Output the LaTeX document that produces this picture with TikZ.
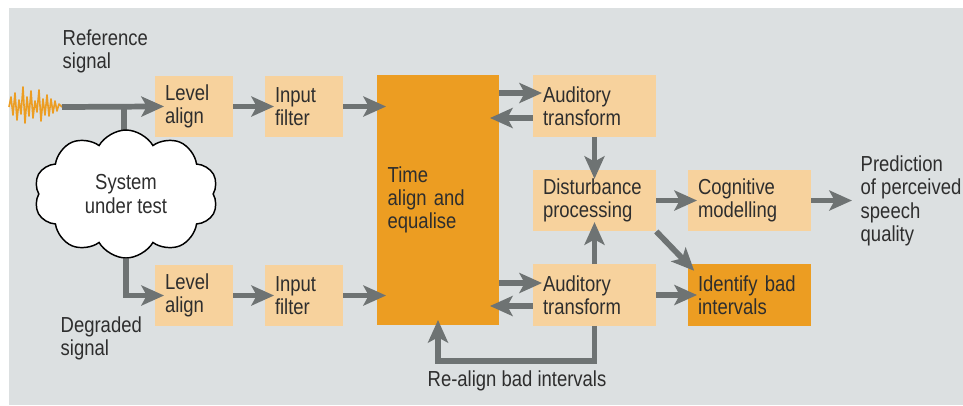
\documentclass[tikz,border=0pt]{standalone}
\usepackage{fontspec}
\setmainfont{Liberation Sans}[FakeStretch=0.85]
\usetikzlibrary{arrows.meta,shapes.symbols}
\definecolor{bggray}{HTML}{DCE0E1}
\definecolor{lightorange}{HTML}{F7D29D}
\definecolor{darkorange}{HTML}{EC9D22}
\definecolor{arrowgray}{HTML}{6E7373}
\definecolor{textgray}{HTML}{2E2E2E}
\begin{document}
\begin{tikzpicture}[x=0.75pt,y=-0.75pt,
        font=\fontsize{16.3pt}{17.5pt}\selectfont,
        every node/.style={text=textgray},
        smallbox/.style={rectangle,fill=lightorange,inner xsep=7.5pt,inner ysep=0pt,
                text width=43.5pt,minimum height=45.75pt,align=left},
        widebox/.style={rectangle,fill=lightorange,inner xsep=7.5pt,inner ysep=0pt,
                text width=77.25pt,minimum height=46pt,align=left},
        flow/.style={draw=arrowgray,line width=4.3pt,
                -{Stealth[length=17pt,width=15pt,inset=4pt]},shorten >=-7pt},
        stem/.style={draw=arrowgray,line width=4.3pt}]
        \useasboundingbox (0,0) rectangle (963,405);
        \fill[bggray] (9,8) rectangle (963,405);

        % reference waveform
        \draw[darkorange,line width=1.2pt,line join=round] plot coordinates {
                (9,107) (11,97) (13,115) (15,93) (17,120) (19,100) (21,114) (23,87)
                (25,123) (27,97) (29,116) (31,91) (33,118) (35,101) (37,112) (39,90)
                (41,121) (43,99) (45,115) (47,95) (49,116) (51,99) (53,113) (55,101)
                (57,111) (59,104) (62,107)};
        \coordinate (wave) at (62,107);
        \coordinate (tee) at (124,107);

        \node[anchor=north west,align=left] (reflbl) at (58,25) {Reference\\signal};
        \node[anchor=north west,align=left] (deglbl) at (56,312) {Degraded\\signal};

        \node[smallbox] (lev1) at (194,106.5) {Level\\align};
        \node[smallbox] (inp1) at (304,106.5) {Input\\filter};
        \node[smallbox] (lev2) at (194,295.5) {Level\\align};
        \node[smallbox] (inp2) at (304,295.5) {Input\\filter};

        \node[rectangle,fill=darkorange,inner xsep=8pt,inner ysep=0pt,text width=75.5pt,
                minimum height=187.5pt,align=left] (time) at (438,200) {Time\\align and\\equalise};

        \node[widebox] (at1) at (594.5,106) {Auditory\\transform};
        \node[widebox] (dp) at (594.5,200.5) {Disturbance\\processing};
        \node[widebox] (at2) at (594.5,295) {Auditory\\transform};
        \node[widebox] (cm) at (749.5,200.5) {Cognitive\\modelling};
        \node[widebox,fill=darkorange] (ibi) at (749.5,295) {Identify bad\\intervals};

        \node[anchor=north west,align=left] (pred) at (856,151) {Prediction\\of perceived\\speech\\quality};
        \node (realbl) at (517,381) {Re-align bad intervals};

        \draw[stem] (tee) -- (124,140);
        \node[cloud,draw=black,fill=white,line width=1.1pt,cloud puffs=10,cloud puff arc=120,
                aspect=1.45,minimum width=138pt,minimum height=96pt,inner sep=0pt,align=center] (sut)
                at (126,194) {System\\under test};

        \draw[flow] (wave) -- (lev1.west);
        \draw[flow] (sut.south) |- (lev2.west);
        \draw[flow] (lev1) -- (inp1);
        \draw[flow] (lev2) -- (inp2);
        \draw[flow] (inp1.east) -- (time.west |- inp1.east);
        \draw[flow] (inp2.east) -- (time.west |- inp2.east);

        \draw[flow] (time.east |- 0,93) -- (at1.west |- 0,93);
        \draw[flow] (at1.west |- 0,118) -- (time.east |- 0,118);
        \draw[flow] (time.east |- 0,283) -- (at2.west |- 0,283);
        \draw[flow] (at2.west |- 0,306) -- (time.east |- 0,306);

        \draw[flow] (at1) -- (dp);
        \draw[flow] (at2) -- (dp);
        \draw[flow] (dp) -- (cm);
        \draw[flow] (at2) -- (ibi);
        \draw[flow] (dp.south east) -- (ibi.north west);
        \draw[flow,shorten >=3pt] (cm.east) -- (pred.west |- cm.east);
        \draw[flow,shorten >=-4pt] (at2.south) -- ++(0,35) -| (time.south);
\end{tikzpicture}
\end{document}
